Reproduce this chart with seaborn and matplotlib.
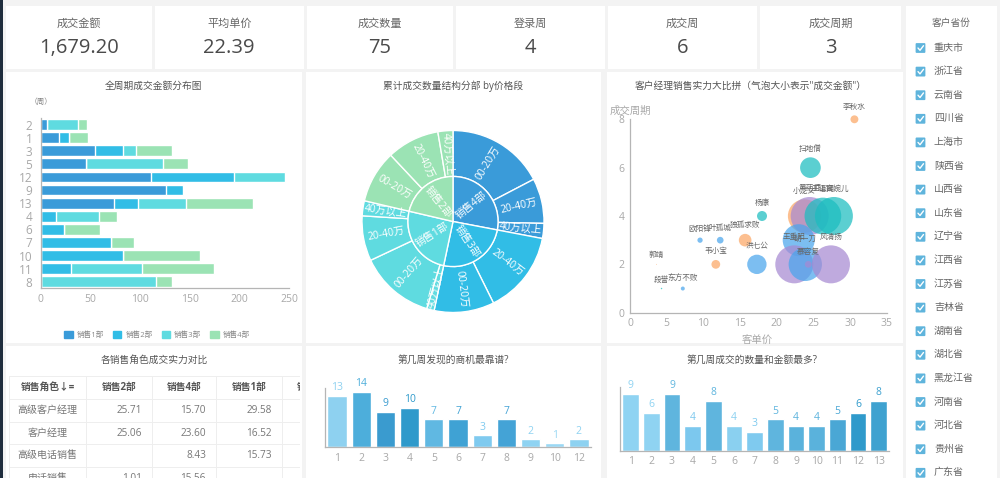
import numpy as np
import pandas as pd
import matplotlib
matplotlib.use("Agg")
import matplotlib.pyplot as plt
from matplotlib.patches import Rectangle, FancyBboxPatch, Patch
import seaborn as sns

# ---- data ----
kpi_names = ["成交金额", "平均单价", "成交数量", "登录周", "成交周", "成交周期"]
kpi_values = ["1,679.20", "22.39", "75", "4", "6", "3"]

provinces = ["重庆市", "浙江省", "云南省", "四川省", "上海市", "陕西省", "山西省", "山东省", "辽宁省", "江西省",
             "江苏省", "吉林省", "湖南省", "湖北省", "黑龙江省", "河南省", "河北省", "贵州省", "广东省"]

weeks = ["2", "1", "3", "5", "12", "9", "13", "4", "6", "7", "10", "11", "8"]
dept1 = [6, 18, 55, 46, 110.5, 126, 74, 0, 0, 0, 0, 0, 0]
dept2 = [0, 10.5, 27.5, 0, 83.5, 17, 23.5, 15, 23, 70.5, 82.5, 30, 0]
dept3 = [32, 0, 13.5, 77, 52, 0, 49, 44, 0, 0, 0, 71.5, 116]
dept4 = [9, 19.5, 36, 25, 0, 0, 67, 18, 37, 23.5, 77.5, 72.5, 16]
dept_names = ["销售1部", "销售2部", "销售3部", "销售4部"]
dept_colors = ["#3a9bd9", "#31bde6", "#5fdbe0", "#9be3b4"]

ring_names = ["销售4部", "销售3部", "销售1部", "销售2部"]
ring_counts = [21, 19, 19, 16]
ring_colors = ["#3a9bd9", "#31bde6", "#5fdbe0", "#9be3b4"]
slice_names = ["00-20万", "20-40万", "40万以上", "20-40万", "00-20万", "40万以上",
               "00-20万", "20-40万", "40万以上", "00-20万", "20-40万", "40万以上"]
slice_counts = [13, 6, 2, 11, 8, 1, 10, 6, 2, 7, 7, 2]
slice_groups = [0, 0, 0, 1, 1, 2, 2, 2, 2, 3, 3, 3]

people = ["李秋水", "扫地僧", "小龙女", "黄药师", "王语嫣", "上官婉儿", "杨康", "", "王重阳", "胡一刀",
          "风清扬", "慕容复", "洪七公", "韦小宝", "郭靖", "段誉", "东方不败", "欧阳锋", "叶孤城", "独孤求败"]
unit_price = [30.6, 24.6, 23.8, 24.5, 26.3, 27.8, 18.0, 23.0, 22.4, 23.9,
              27.4, 24.3, 17.3, 11.7, 3.6, 4.3, 7.2, 9.55, 12.3, 15.7]
deal_weeks = [8, 6, 4, 4, 4, 4, 4, 3, 2, 2, 2, 2, 2, 2, 2, 1, 1, 3, 3, 3]
amounts = [9, 61.5, 160, 208, 194, 208, 14.4, 147, 208, 160,
           208, 6.4, 54, 11, 0.1, 0.3, 2.3, 4, 6.4, 23]
person_group = ["橙", "青", "橙", "紫", "青", "青", "青", "蓝", "紫", "蓝",
                "紫", "紫", "蓝", "橙", "橙", "青", "蓝", "蓝", "蓝", "橙"]
group_colors = {"橙": "#fba765", "青": "#1cbdc0", "紫": "#a78ad2", "蓝": "#4aa5ec"}

table_head = ["销售角色↓=", "销售2部", "销售4部", "销售1部", "销售3部"]
table_rows = [["高级客户经理", "25.71", "15.70", "29.58", "18.20"],
              ["客户经理", "25.06", "23.60", "16.52", "21.30"],
              ["高级电话销售", "", "8.43", "15.73", "9.10"],
              ["电话销售", "1.01", "15.56", "", ""]]

found_weeks = ["1", "2", "3", "4", "5", "6", "7", "8", "9", "10", "12"]
found_counts = [13, 14, 9, 10, 7, 7, 3, 7, 2, 1, 2]
found_colors = ["#8ed1f0", "#4daedb", "#3a9bcf", "#2f9acb", "#60b8e2", "#3fa2d4",
                "#7fcaef", "#44a3d6", "#8fd3f2", "#9ad8f4", "#8ed2f1"]

deal_week_names = ["1", "2", "3", "4", "5", "6", "7", "8", "9", "10", "11", "12", "13"]
deal_counts = [9, 6, 9, 4, 8, 4, 3, 5, 4, 4, 5, 6, 8]
deal_colors = ["#8fd3f2", "#8fd3f2", "#5fb5de", "#7cc8ee", "#5fb5de", "#8ad0f0", "#7fcaef",
               "#5fb5de", "#5ab2dc", "#5ab2dc", "#4aa7d5", "#2f9acb", "#3fa2d0"]

# ---- style ----
sns.set_theme(style="white")
plt.rcParams["font.family"] = ["Open Sans", "Noto Sans CJK SC", "DejaVu Sans"]
W, H = 1000, 478
TITLE = "#555555"
TICK = "#a8a8a8"
AXIS = "#b5b5b5"

fig = plt.figure(figsize=(W / 100, H / 100), dpi=100, facecolor="#f3f3f3")


def box(x0, y0, x1, y1):
    # axes from pixel box, y measured from the top
    return fig.add_axes([x0 / W, 1 - y1 / H, (x1 - x0) / W, (y1 - y0) / H])


def clean(ax):
    sns.despine(ax=ax)
    for side in ["left", "bottom"]:
        ax.spines[side].set_color(AXIS)
        ax.spines[side].set_linewidth(0.9)
    ax.tick_params(length=0, colors=TICK, labelsize=7.5, pad=4)
    ax.set_facecolor("none")
    ax.set_xlabel("")
    ax.set_ylabel("")


# background layer in pixel coordinates
bg = fig.add_axes([0, 0, 1, 1], zorder=-1)
bg.set_xlim(0, W)
bg.set_ylim(H, 0)
bg.axis("off")
bg.add_patch(Rectangle((0, 0), 3, H, color="#1f2d3d", lw=0))

kpi_boxes = [(6, 151.5), (154.5, 304), (307, 453), (456, 605), (608, 757), (760, 901)]
for (x0, x1), name, value in zip(kpi_boxes, kpi_names, kpi_values):
    bg.add_patch(Rectangle((x0, 6), x1 - x0, 63, color="white", lw=0))
    bg.text((x0 + x1) / 2, 24.5, name, ha="center", va="center", fontsize=8, color="#666666")
    bg.text((x0 + x1) / 2, 48, value, ha="center", va="center", fontsize=14.5, color="#4a4a4a")

for x0, x1 in [(6, 302), (306, 601), (607, 903)]:
    bg.add_patch(Rectangle((x0, 72), x1 - x0, 271, color="white", lw=0))
    bg.add_patch(Rectangle((x0, 346), x1 - x0, 132, color="white", lw=0))

titles = [(153.5, 86, "全周期成交金额分布图"), (453.5, 86, "累计成交数量结构分部 by价格段"),
          (751, 86, "客户经理销售实力大比拼（气泡大小表示\"成交金额\"）"),
          (154, 360, "各销售角色成交实力对比"), (453, 360, "第几周发现的商机最靠谱?"),
          (752, 360, "第几周成交的数量和金额最多?")]
for x, y, text in titles:
    bg.text(x, y, text, ha="center", va="center", fontsize=7, color=TITLE)

# province filter
bg.add_patch(Rectangle((906, 6), 91, 472, color="white", lw=0))
bg.text(951, 23, "客户省份", ha="center", va="center", fontsize=7, color="#666666")
for i, name in enumerate(provinces):
    y = 48 + 23.6 * i
    bg.add_patch(FancyBboxPatch((916, y - 4.5), 9, 9, boxstyle="round,pad=0.4,rounding_size=1",
                                color="#5fb4dc", lw=0))
    bg.plot([918, 920, 923.5], [y, y + 2.3, y - 2.3], color="white", lw=1)
    bg.text(934, y, name, ha="left", va="center", fontsize=7.2, color="#666666")

# stacked bars, drawn from the longest cumulative part down
bars = pd.DataFrame({"week": weeks, "d1": dept1, "d2": dept2, "d3": dept3, "d4": dept4})
cum = bars[["d1", "d2", "d3", "d4"]].cumsum(axis=1)
cum["week"] = weeks
ax = box(40.7, 118, 289.3, 288.3)
for col, color in zip(["d4", "d3", "d2", "d1"], dept_colors[::-1]):
    sns.barplot(data=cum, x=col, y="week", order=weeks, color=color, width=0.82, saturation=1, ax=ax)
ax.set_xlim(0, 250)
ax.set_xticks([0, 50, 100, 150, 200, 250])
clean(ax)
ax.tick_params(axis="y", labelsize=8.5, pad=6)
ax.text(0, 1.094, "（周）", transform=ax.transAxes, fontsize=5.5, color="#888888", ha="center", va="center")
handles = [Patch(color=c, label=n) for c, n in zip(dept_colors, dept_names)]
fig.legend(handles=handles, loc="center", bbox_to_anchor=(157 / W, 1 - 335 / H), ncol=4, frameon=False,
           fontsize=5.5, labelcolor="#888888", handlelength=1.1, handleheight=1.1, handletextpad=0.5,
           columnspacing=1.2, borderpad=0)

# sunburst
ax = box(362, 130.5, 544, 312.5)
outer, _ = ax.pie(slice_counts, colors=[ring_colors[g] for g in slice_groups], startangle=90, counterclock=False,
                  radius=1, wedgeprops=dict(width=0.505, edgecolor="white", linewidth=1))
inner, _ = ax.pie(ring_counts, colors=ring_colors, startangle=90, counterclock=False,
                  radius=0.495, wedgeprops=dict(edgecolor="white", linewidth=1))
ax.set_xlim(-1, 1)
ax.set_ylim(-1, 1)


def wedge_labels(wedges, names, r, size):
    for wedge, name in zip(wedges, names):
        mid = (wedge.theta1 + wedge.theta2) / 2
        rad = np.deg2rad(mid)
        rot = mid if np.cos(rad) >= 0 else mid + 180
        ax.text(r * np.cos(rad), r * np.sin(rad), name, rotation=rot, rotation_mode="anchor", ha="center",
                va="center", fontsize=size, color="white")


wedge_labels(outer, slice_names, 0.745, 7.5)
wedge_labels(inner, ring_names, 0.27, 7.5)

# bubbles
people_df = pd.DataFrame({"name": people, "x": unit_price, "y": deal_weeks, "amount": amounts, "group": person_group})
people_df["s"] = people_df["amount"] * 3.6
ax = box(630, 119.3, 886.7, 312.7)
sns.scatterplot(data=people_df, x="x", y="y", hue="group", palette=group_colors, s=people_df["s"], alpha=0.72,
                linewidth=0, legend=False, clip_on=False, ax=ax)
ax.set_xlim(0, 35)
ax.set_ylim(0, 8)
ax.set_xticks(range(0, 36, 5))
ax.set_yticks([0, 2, 4, 6, 8])
clean(ax)
for row in people_df.itertuples():
    ax.annotate(row.name, (row.x, row.y), xytext=(0, np.sqrt(row.s) / 2 + 6), textcoords="offset points",
                ha="center", va="center", fontsize=5.5, color="#666666", annotation_clip=False)
ax.text(0, 1.015, "成交周期", transform=ax.transAxes, fontsize=7.5, color=TICK, ha="center", va="bottom")
ax.text(0.497, -0.145, "客单价", transform=ax.transAxes, fontsize=7.5, color=TICK, ha="center", va="center")

# table, clipped by its axes
ax = box(6, 346, 300, 478)
ax.set_xlim(6, 300)
ax.set_ylim(478, 346)
ax.axis("off")
col_edges = [9.3, 86, 151.7, 216, 281.7, 347]
row_edges = [376, 399.3, 422.3, 444.3, 467.3, 490]
for x in col_edges:
    ax.plot([x, x], [row_edges[0], row_edges[-1]], color="#eeeeee", lw=0.7)
for y in row_edges:
    ax.plot([col_edges[0], col_edges[-1]], [y, y], color="#eeeeee", lw=0.7)
for j, head in enumerate(table_head):
    ax.text((col_edges[j] + col_edges[j + 1]) / 2, 387.7, head, ha="center", va="center", fontsize=7,
            fontweight="bold", color="#555555", clip_on=True)
for i, row in enumerate(table_rows):
    yc = (row_edges[i + 1] + row_edges[i + 2]) / 2
    ax.text((col_edges[0] + col_edges[1]) / 2, yc, row[0], ha="center", va="center", fontsize=7.2,
            color="#777777", clip_on=True)
    for j, val in enumerate(row[1:], start=1):
        ax.text(col_edges[j + 1] - 10, yc, val, ha="right", va="center", fontsize=7.2, color="#777777", clip_on=True)


def week_bars(pos, names, counts, colors, top):
    ax = box(*pos)
    frame = pd.DataFrame({"week": names, "n": counts})
    sns.barplot(data=frame, x="week", y="n", order=names, hue="week", hue_order=names, palette=colors,
                width=0.8, saturation=1, dodge=False, legend=False, ax=ax)
    ax.set_ylim(0, top)
    ax.set_yticks([])
    clean(ax)
    for cont, color in zip(ax.containers, colors):
        ax.bar_label(cont, padding=2, fontsize=7.5, color=color, clip_on=False)
    return ax


week_bars((325, 387.7, 591, 447.3), found_weeks, found_counts, found_colors, 15)
week_bars((620.3, 386.7, 889, 450.7), deal_week_names, deal_counts, deal_colors, 10.2)

fig.savefig("out.png", dpi=100)
